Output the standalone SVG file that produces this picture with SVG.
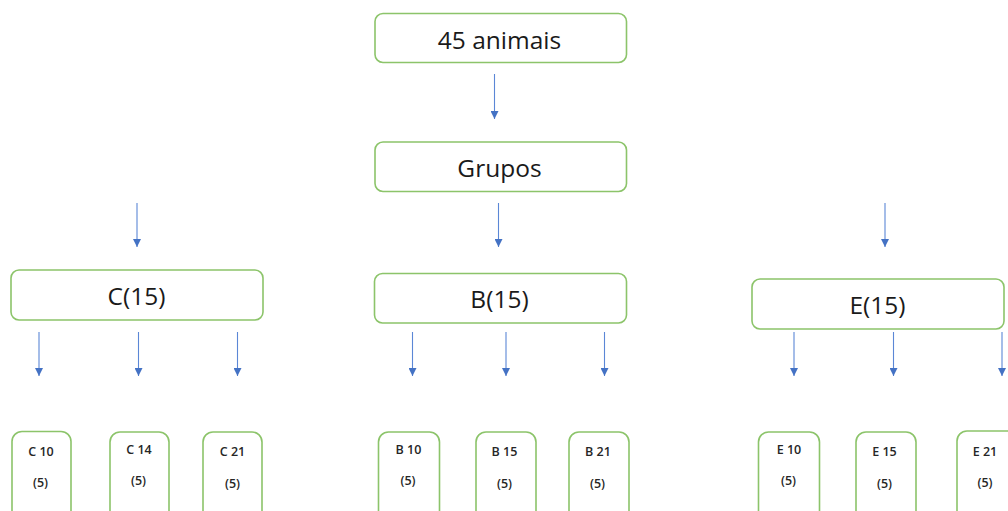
<svg xmlns="http://www.w3.org/2000/svg" width="1008" height="511" viewBox="0 0 1008 511">
<style>
.box{fill:#fff;stroke:#8cc46a;stroke-width:1.6}
.big{font-family:"Open Sans","Liberation Sans",sans-serif;font-size:24.5px;fill:#1a1a1a;text-anchor:middle}
.sm{font-family:"Open Sans","Liberation Sans",sans-serif;font-size:12.5px;fill:#262626;text-anchor:middle;font-weight:600}
.con line{stroke:#5b87d6;stroke-width:1.1;marker-end:url(#ah)}
</style>
<defs>
<marker id="ah" viewBox="0 0 10 10" refX="10" refY="5" markerWidth="8" markerHeight="8" markerUnits="userSpaceOnUse" orient="auto">
<path d="M0,0 L10,5 L0,10 z" fill="#4472c4"/>
</marker>
</defs>
<rect width="1008" height="511" fill="#fff"/>
<g class="con">
<line x1="494.5" y1="74" x2="494.5" y2="119"/>
<line x1="137" y1="203" x2="137" y2="247"/>
<line x1="498.5" y1="203" x2="498.5" y2="247"/>
<line x1="885" y1="203" x2="885" y2="247"/>
<line x1="39" y1="332" x2="39" y2="376"/>
<line x1="138.5" y1="332" x2="138.5" y2="376"/>
<line x1="237.5" y1="332" x2="237.5" y2="376"/>
<line x1="412.5" y1="332" x2="412.5" y2="376"/>
<line x1="506" y1="332" x2="506" y2="376"/>
<line x1="604.5" y1="332" x2="604.5" y2="376"/>
<line x1="794" y1="332" x2="794" y2="376"/>
<line x1="893.5" y1="332" x2="893.5" y2="376"/>
<line x1="1002" y1="332" x2="1002" y2="376"/>
</g>
<g id="n-animais"><rect class="box" x="375" y="13.5" width="251.5" height="49" rx="8"/><text class="big" x="499.5" y="48.5">45 animais</text></g>
<g id="n-grupos"><rect class="box" x="375" y="142" width="251.5" height="49.5" rx="8"/><text class="big" x="499.5" y="176.5">Grupos</text></g>
<g id="n-c"><rect class="box" x="11" y="270" width="252" height="50" rx="8"/><text class="big" x="136.5" y="304.5">C(15)</text></g>
<g id="n-b"><rect class="box" x="374.5" y="273.5" width="252" height="49.5" rx="8"/><text class="big" x="499.5" y="307.5">B(15)</text></g>
<g id="n-e"><rect class="box" x="752" y="279" width="252" height="50" rx="8"/><text class="big" x="877.5" y="313.5">E(15)</text></g>
<g id="n-c10"><rect class="box" x="12" y="431.5" width="59" height="95" rx="10"/><text class="sm" x="41" y="456">C 10</text><text class="sm" x="40.5" y="487">(5)</text></g>
<g id="n-c14"><rect class="box" x="110" y="432" width="59" height="95" rx="10"/><text class="sm" x="139" y="454">C 14</text><text class="sm" x="138.5" y="485">(5)</text></g>
<g id="n-c21"><rect class="box" x="203" y="432" width="59" height="95" rx="10"/><text class="sm" x="232.5" y="456">C 21</text><text class="sm" x="232.5" y="488">(5)</text></g>
<g id="n-b10"><rect class="box" x="378.5" y="432" width="61" height="95" rx="10"/><text class="sm" x="408.5" y="454">B 10</text><text class="sm" x="408" y="485">(5)</text></g>
<g id="n-b15"><rect class="box" x="476" y="432" width="60" height="95" rx="10"/><text class="sm" x="504.5" y="456">B 15</text><text class="sm" x="504.5" y="488">(5)</text></g>
<g id="n-b21"><rect class="box" x="569" y="432" width="60" height="95" rx="10"/><text class="sm" x="598" y="456">B 21</text><text class="sm" x="597.5" y="488">(5)</text></g>
<g id="n-e10"><rect class="box" x="758.5" y="432" width="61" height="95" rx="10"/><text class="sm" x="789" y="454">E 10</text><text class="sm" x="788.5" y="485">(5)</text></g>
<g id="n-e15"><rect class="box" x="856" y="432" width="60" height="95" rx="10"/><text class="sm" x="884.5" y="456">E 15</text><text class="sm" x="884.5" y="488">(5)</text></g>
<g id="n-e21"><rect class="box" x="957" y="431" width="61" height="95" rx="10"/><text class="sm" x="985" y="456">E 21</text><text class="sm" x="985" y="487">(5)</text></g>
</svg>
